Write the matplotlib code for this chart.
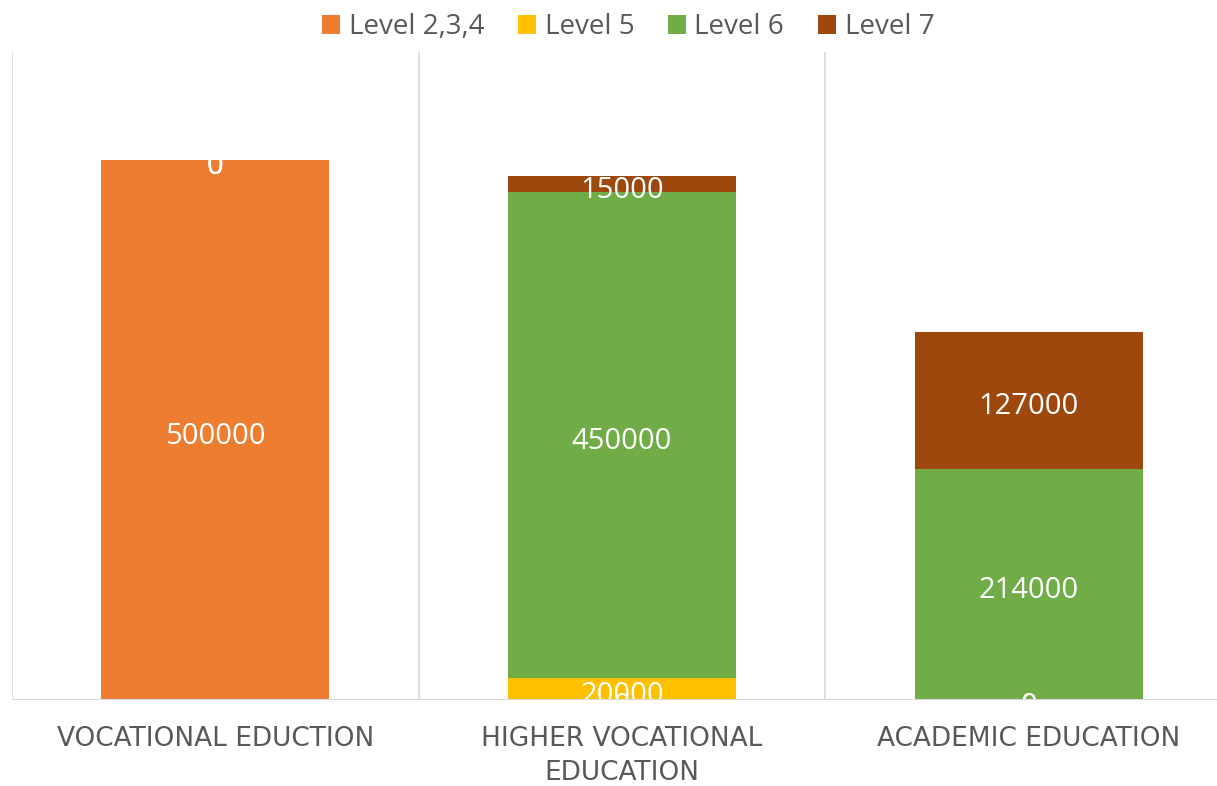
import matplotlib.pyplot as plt
import numpy as np

# data
categories = ["VOCATIONAL EDUCTION", "HIGHER VOCATIONAL\nEDUCATION", "ACADEMIC EDUCATION"]
series_names = ["Level 2,3,4", "Level 5", "Level 6", "Level 7"]
level_234 = [500000, 0, 0]
level_5 = [0, 20000, 0]
level_6 = [0, 450000, 214000]
level_7 = [0, 15000, 127000]
colors = ["#ED7D31", "#FFC000", "#70AD47", "#9E480E"]

plt.rcParams['font.family'] = ['Open Sans', 'DejaVu Sans']


def draw_chart():
    fig = plt.figure(figsize=(12.17, 7.86), dpi=100)
    # plot area spans a bit past the right edge of the picture, like the original
    ax = fig.add_axes([12 / 1217, 86 / 786, 1220 / 1217, 648 / 786])
    x = np.arange(len(categories))
    bottom = np.zeros(len(categories))
    handles = []
    for name, vals, col in zip(series_names, [level_234, level_5, level_6, level_7], colors):
        bars = ax.bar(x, vals, 0.56, bottom=bottom, color=col, label=name, zorder=2)
        anns = ax.bar_label(bars, labels=[str(v) for v in vals], label_type='center',
                            color='white', fontsize=21, zorder=3)
        for a in anns:
            a.xyann = (0, -4.5)  # excel puts the labels a touch lower
        bottom += np.array(vals)
        handles.append(bars)

    ax.set_xlim(-0.5, 2.5)
    ax.set_ylim(0, 600000)
    for xv in [-0.5, 0.5, 1.5, 2.5]:
        ax.axvline(xv, color='#D9D9D9', linewidth=1.2, zorder=1)
    ax.axhline(0, color='#D9D9D9', linewidth=1.5, zorder=4)
    for s in ax.spines.values():
        s.set_visible(False)
    ax.set_yticks([])
    ax.set_xticks([])
    for xi, cat in zip(x, categories):
        ax.text(xi, -0.04, cat, transform=ax.get_xaxis_transform(), ha='center', va='top',
                fontsize=19, color='#595959', linespacing=1.38, family='DejaVu Sans')

    fig.legend(handles=handles, loc='upper center', bbox_to_anchor=(628 / 1217, 1.015), ncol=4,
               frameon=False, fontsize=20, labelcolor='#595959', handlelength=0.65,
               handleheight=0.65, handletextpad=0.32, columnspacing=1.2)
    fig.savefig('out.png', dpi=100)


if __name__ == '__main__':
    draw_chart()
